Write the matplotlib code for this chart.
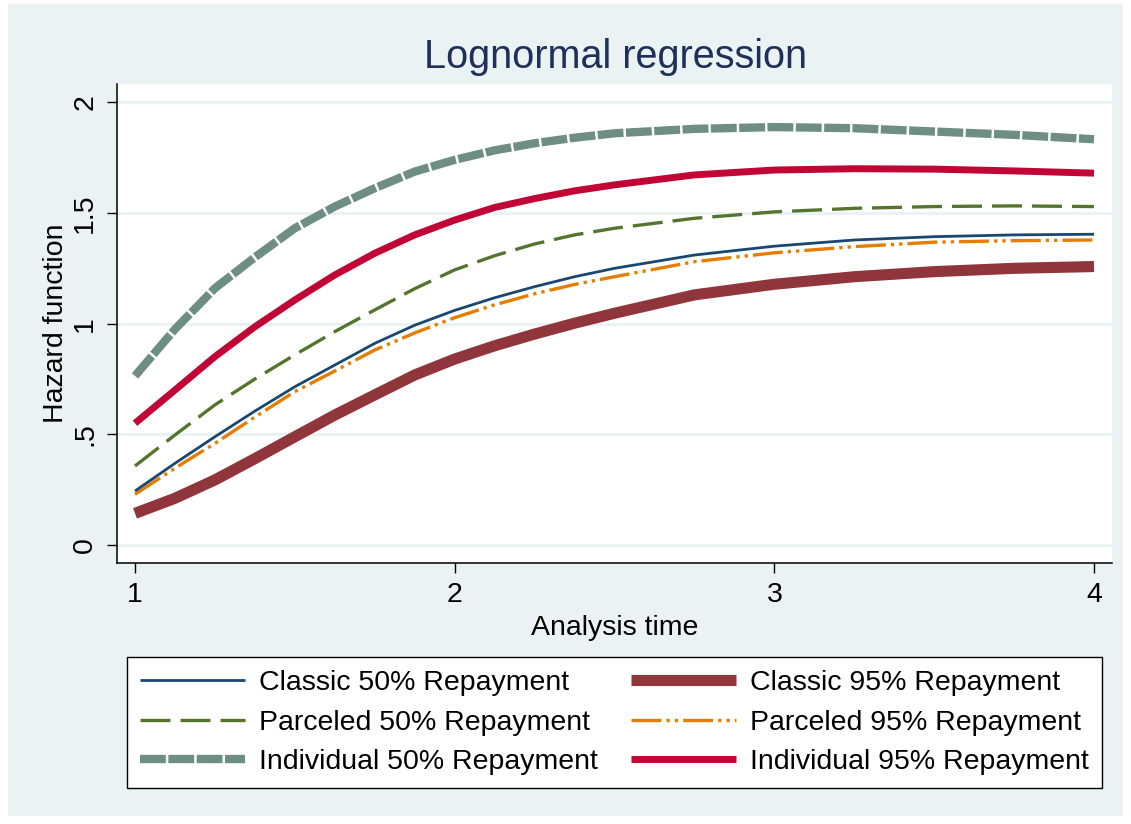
import matplotlib
matplotlib.use("Agg")
import matplotlib.pyplot as plt
from matplotlib.patches import Rectangle

plt.rcParams['font.family'] = ['Liberation Sans', 'DejaVu Sans']

# Data
time = [1.0, 1.125, 1.25, 1.375, 1.5, 1.625, 1.75, 1.875, 2.0, 2.125, 2.25, 2.375,
        2.5, 2.75, 3.0, 3.25, 3.5, 3.75, 4.0]
classic50 = [0.244, 0.369, 0.489, 0.605, 0.715, 0.813, 0.911, 0.993, 1.060, 1.117, 1.167, 1.212,
             1.250, 1.310, 1.350, 1.378, 1.393, 1.401, 1.404]
classic95 = [0.143, 0.211, 0.294, 0.390, 0.489, 0.587, 0.678, 0.768, 0.840, 0.900, 0.953, 1.002,
             1.047, 1.130, 1.178, 1.212, 1.235, 1.250, 1.258]
parceled50 = [0.357, 0.497, 0.633, 0.750, 0.859, 0.964, 1.062, 1.158, 1.243, 1.307, 1.360, 1.401,
              1.431, 1.476, 1.505, 1.521, 1.529, 1.532, 1.529]
parceled95 = [0.229, 0.347, 0.459, 0.578, 0.693, 0.786, 0.881, 0.958, 1.027, 1.085, 1.135, 1.177,
              1.212, 1.280, 1.320, 1.348, 1.368, 1.375, 1.378]
individual50 = [0.764, 0.975, 1.160, 1.300, 1.431, 1.529, 1.612, 1.687, 1.740, 1.783, 1.815, 1.840,
                1.860, 1.880, 1.888, 1.883, 1.868, 1.853, 1.833]
individual95 = [0.550, 0.700, 0.851, 0.986, 1.107, 1.220, 1.318, 1.401, 1.468, 1.525, 1.565, 1.600,
                1.627, 1.672, 1.694, 1.700, 1.698, 1.690, 1.680]

labels = ["Classic 50% Repayment", "Classic 95% Repayment",
          "Parceled 50% Repayment", "Parceled 95% Repayment",
          "Individual 50% Repayment", "Individual 95% Repayment"]
xticks = [1, 2, 3, 4]
yticks = [0, 0.5, 1, 1.5, 2]
yticklabels = ["0", ".5", "1", "1.5", "2"]

W, H = 1131, 824
BG = "#EAF2F3"
fig = plt.figure(figsize=(W / 100, H / 100), dpi=100, facecolor="white")
fig.patches.append(Rectangle((8 / W, 8 / H), (W - 16) / W, (H - 12) / H,
                             transform=fig.transFigure, facecolor=BG,
                             edgecolor="none", zorder=-10))

ax = fig.add_axes([117 / W, 1 - 563 / H, (1112 - 117) / W, (563 - 84) / H])
ax.set_facecolor("white")
ax.set_xlim(0.9437, 4.0563)
ax.set_ylim(-0.0813, 2.0827)
for s in ["top", "right"]:
    ax.spines[s].set_visible(False)
for s in ["left", "bottom"]:
    ax.spines[s].set_color("black")
    ax.spines[s].set_linewidth(1.1)

ax.set_yticks(yticks)
ax.set_yticklabels(yticklabels, rotation=90, va="center")
ax.set_xticks(xticks)
ax.tick_params(axis="both", direction="out", length=7.5, width=1.0,
               labelsize=20.5, colors="black", pad=6)
ax.yaxis.grid(True, color=BG, linewidth=2.2)
ax.set_axisbelow(True)

h1, = ax.plot(time, classic50, color="#1A476F", lw=2.0, solid_capstyle="butt", zorder=5)
h2, = ax.plot(time, classic95, color="#90353B", lw=8.0, solid_capstyle="butt", zorder=3)
h3, = ax.plot(time, parceled50, color="#55752F", lw=2.4, dashes=(9.0, 3.0),
              dash_capstyle="butt", zorder=4)
h4, = ax.plot(time, parceled95, color="#E37E00", lw=2.4,
              dashes=(9.0, 1.5, 1.0, 1.5, 1.0, 1.5), dash_capstyle="butt", zorder=4)
h5, = ax.plot(time, individual50, color="#6E8E84", lw=6.0, dashes=(3.1, 0.3),
              dash_capstyle="butt", zorder=3)
h6, = ax.plot(time, individual95, color="#C10534", lw=5.0, solid_capstyle="butt", zorder=3)

ax.set_xlabel("Analysis time", fontsize=20.5, labelpad=5)
ax.set_ylabel("Hazard function", fontsize=20.5, labelpad=2)
fig.text(616 / W, 1 - 57 / H, "Lognormal regression", fontsize=28.5,
         color="#1E2F5A", ha="center", va="center")

order = [0, 2, 4, 1, 3, 5]
handles = [h1, h2, h3, h4, h5, h6]
leg = fig.legend([handles[i] for i in order], [labels[i] for i in order], ncol=2,
                 loc="lower left",
                 bbox_to_anchor=(127 / W, 1 - 788 / H, (1102 - 127) / W, (788 - 656) / H),
                 mode="expand", fontsize=20.5, frameon=True, fancybox=False,
                 edgecolor="black", facecolor="white", framealpha=1,
                 handlelength=3.7, handletextpad=0.5, columnspacing=0.9,
                 labelspacing=0.48, borderpad=0.45, borderaxespad=0)
leg.get_frame().set_linewidth(1.0)

fig.savefig("out.png", dpi=100, facecolor=fig.get_facecolor())
